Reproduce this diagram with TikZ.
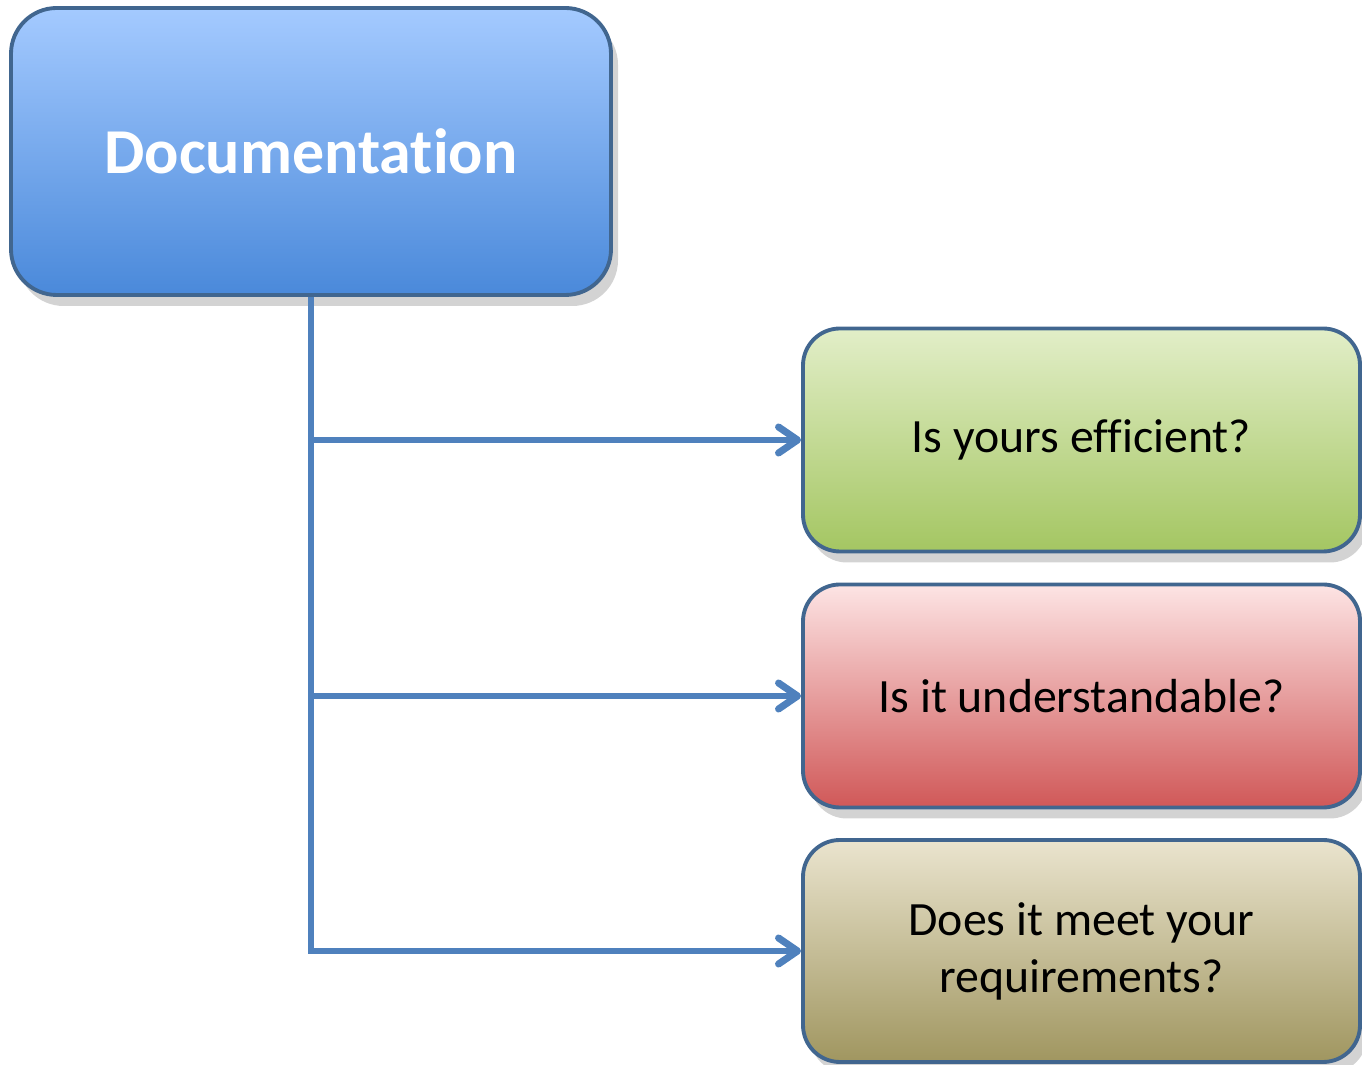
\documentclass[tikz,border=0pt]{standalone}
\usepackage{fontspec}
\setmainfont{Carlito}[Ligatures=NoCommon]
\usetikzlibrary{arrows.meta,shadows}
\definecolor{linkblue}{HTML}{4F81BD}
\definecolor{edgeblue}{HTML}{41668F}
\begin{document}
\begin{tikzpicture}[every node/.style={font=\fontsize{13.6}{16.2}\selectfont},
  card/.style={draw=edgeblue,line width=1.1pt,rounded corners=10.5pt,minimum width=5.57cm,minimum height=2.23cm,align=center,
    drop shadow={shadow xshift=0.7mm,shadow yshift=-1.1mm,opacity=0.35}},
  link/.style={-{Straight Barb[length=1.9mm,width=2.6mm,line width=2pt,round]},line width=1.6pt,linkblue}]
\useasboundingbox (0,0) rectangle (13.62,10.65);
\node[card,rounded corners=13pt,minimum width=6.0cm,minimum height=2.87cm,
  top color={rgb,255:red,164;green,202;blue,255},bottom color={rgb,255:red,74;green,137;blue,218},
  font=\fontsize{18.2}{22}\selectfont\bfseries,text=white] (doc) at (3.11,9.135) {Documentation};
\node[card,top color={rgb,255:red,226;green,238;blue,200},bottom color={rgb,255:red,164;green,198;blue,98}] (eff) at (10.815,6.25) {Is yours efficient?};
\node[card,top color={rgb,255:red,253;green,228;blue,228},bottom color={rgb,255:red,208;green,88;blue,88}] (und) at (10.815,3.69) {Is it understandable?};
\node[card,minimum height=2.22cm,top color={rgb,255:red,234;green,228;blue,206},bottom color={rgb,255:red,160;green,150;blue,96}] (req) at (10.815,1.14) {Does it meet your\\requirements?};
\draw[link] (doc.south) |- (eff.west);
\draw[link] (doc.south) |- (und.west);
\draw[link] (doc.south) |- (req.west);
\end{tikzpicture}
\end{document}
